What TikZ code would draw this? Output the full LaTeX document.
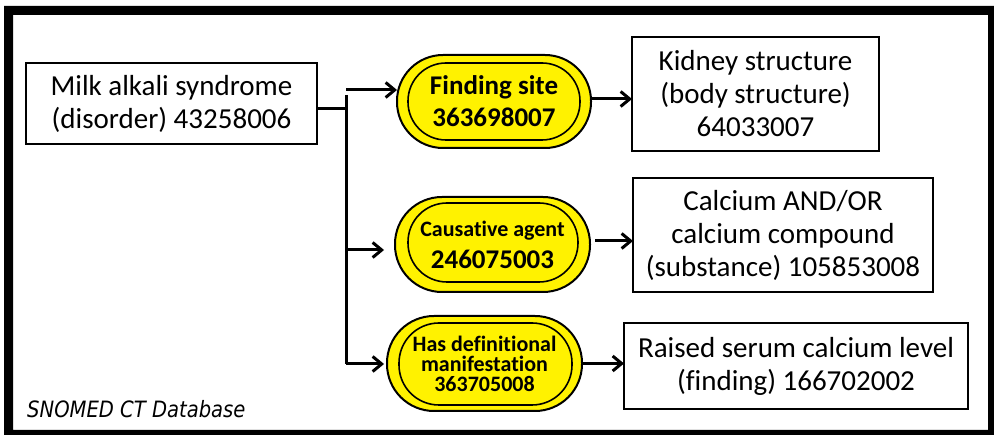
\documentclass[tikz,border=0pt]{standalone}
\usepackage{fontspec}
\setmainfont{Carlito}[Ligatures=NoCommon]
\newfontfamily\snofont{DejaVu Sans}[FakeStretch=0.87]
\usetikzlibrary{arrows.meta}
\begin{document}
\begin{tikzpicture}[x=1pt,y=-1pt,
  conbox/.style={draw, line width=2.5pt, align=center, inner sep=0pt, outer sep=0pt, font=\fontsize{29}{33}\selectfont},
  relbox/.style={draw, fill=yellow, line width=2pt, align=center, inner sep=0pt, outer sep=0pt, font=\bfseries\fontsize{27}{32}\selectfont},
  innerring/.style={draw, line width=1.6pt},
  conn/.style={line width=3pt},
  arr/.style={line width=3pt, -{Straight Barb[length=9pt,width=15pt]}}]
\useasboundingbox (0,0) rectangle (994,435);
\fill[black, even odd rule] (4,6) rectangle (994,435) (13,15) rectangle (988,430);

% concept boxes
\node[conbox, minimum width=291pt, minimum height=81pt] (main) at (171.5,103.5)
  {Milk alkali syndrome\\(disorder) 43258006};
\node[conbox, minimum width=247pt, minimum height=114pt] (kid) at (755.5,94)
  {Kidney structure\\(body structure)\\64033007};
\node[conbox, minimum width=300pt, minimum height=114pt] (calc) at (783,235)
  {Calcium AND/OR\\calcium compound\\(substance) 105853008};
\node[conbox, minimum width=344pt, minimum height=86pt] (rais) at (796,366)
  {Raised serum calcium level\\(finding) 166702002};

% relationship nodes
\node[relbox, rounded corners=46pt, minimum width=194pt, minimum height=93pt] (fs) at (494,101.5)
  {\raisebox{3pt}{\parbox{150pt}{\centering Finding site\\363698007}}};
\draw[innerring, rounded corners=38pt] ([xshift=11pt,yshift=-8pt]fs.north west) rectangle ([xshift=-11pt,yshift=8pt]fs.south east);

\node[relbox, rounded corners=47pt, minimum width=195pt, minimum height=95pt] (ca) at (492.5,244.5)
  {{\fontsize{22}{30}\selectfont Causative agent}\\246075003};
\draw[innerring, rounded corners=39pt] ([xshift=13pt,yshift=-6pt]ca.north west) rectangle ([xshift=-12pt,yshift=10pt]ca.south east);

\node[relbox, rounded corners=47pt, minimum width=195pt, minimum height=95pt, font=\bfseries\fontsize{22}{20}\selectfont] (hd) at (484.5,363.5)
  {Has definitional\\manifestation\\363705008};
\draw[innerring, rounded corners=40pt] ([xshift=12pt,yshift=-7pt]hd.north west) rectangle ([xshift=-10pt,yshift=6pt]hd.south east);

% connectors
\coordinate (j) at (346,109);
\coordinate (ttop) at (346,90);
\coordinate (tbot) at (346,364);
\draw[conn] (main.east |- j) -- (j);
\draw[conn] (346,95) -- (tbot);
\draw[arr] (ttop) -- (ttop -| fs.west);
\draw[arr, shorten >=11pt] (346,250) -- (ca.west |- 0,250);
\draw[arr, shorten >=3pt] (tbot) -- (hd.west |- tbot);
\draw[arr] ([yshift=2.5pt]fs.east) -- ([yshift=2.5pt]fs.east -| kid.west);
\draw[arr, shorten <=5pt] ([yshift=3.5pt]ca.east) -- ([yshift=3.5pt]ca.east -| calc.west);
\draw[arr] (hd.east) -- (hd.east -| rais.west);

\node[anchor=west, inner sep=0pt, font=\snofont\itshape\fontsize{22.5}{26}\selectfont] (db) at (27,409) {SNOMED CT Database};
\end{tikzpicture}
\end{document}
